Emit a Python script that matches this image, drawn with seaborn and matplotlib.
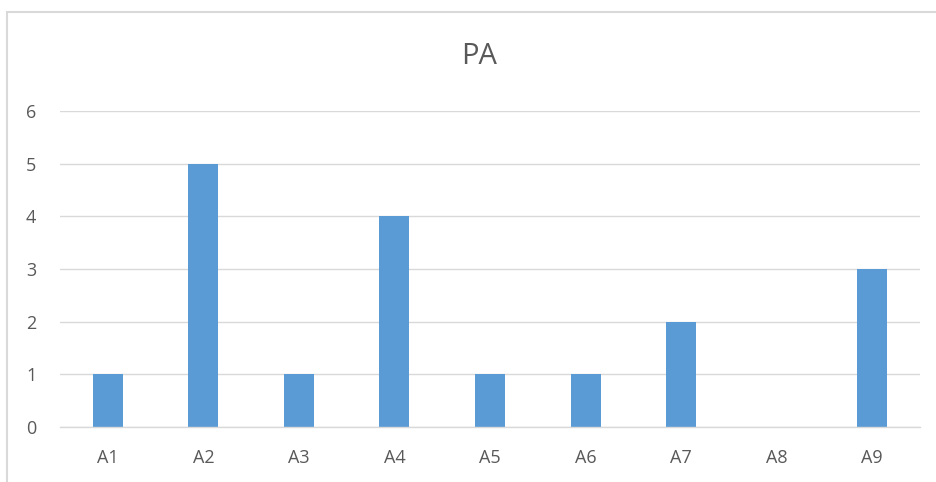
import pandas as pd
import seaborn as sns
import matplotlib.pyplot as plt
from matplotlib.patches import Rectangle

# Data
categories = ['A1', 'A2', 'A3', 'A4', 'A5', 'A6', 'A7', 'A8', 'A9']
values = [1, 5, 1, 4, 1, 1, 2, 0, 3]

df = pd.DataFrame({'item': categories, 'count': values})

sns.set_theme(style='white')
plt.rcParams['font.family'] = ['Open Sans', 'DejaVu Sans']
text_grey = '#595959'
grid_grey = '#D9D9D9'

fig = plt.figure(figsize=(9.37, 4.82), dpi=100)
ax = fig.add_axes([60 / 937, 1 - 427 / 482, 860 / 937, 316 / 482])

sns.barplot(data=df, x='item', y='count', color='#5B9BD5', width=0.314,
            saturation=1, linewidth=0, ax=ax)

ax.set_ylim(0, 6)
ax.set_yticks(range(0, 7))
ax.set_xlim(-0.5, len(categories) - 0.5)
ax.yaxis.grid(True, color=grid_grey, linewidth=1)
ax.set_axisbelow(True)
for s in ['top', 'right', 'left']:
    ax.spines[s].set_visible(False)
ax.spines['bottom'].set_color(grid_grey)
ax.spines['bottom'].set_linewidth(1)
ax.tick_params(axis='both', length=0, labelsize=13, colors=text_grey)
ax.tick_params(axis='y', pad=17)
ax.tick_params(axis='x', pad=16)
ax.set_xlabel('')
ax.set_ylabel('')

fig.text(479 / 937, 1 - 57 / 482, 'PA', ha='center', va='center',
         fontsize=21, color=text_grey)

# chart frame
fig.patches.append(Rectangle((7 / 937, -0.1), 1.2, 1 - 12 / 482 + 0.1,
                             transform=fig.transFigure, fill=False,
                             edgecolor=grid_grey, linewidth=1.5))

fig.savefig('out.png', dpi=100)
